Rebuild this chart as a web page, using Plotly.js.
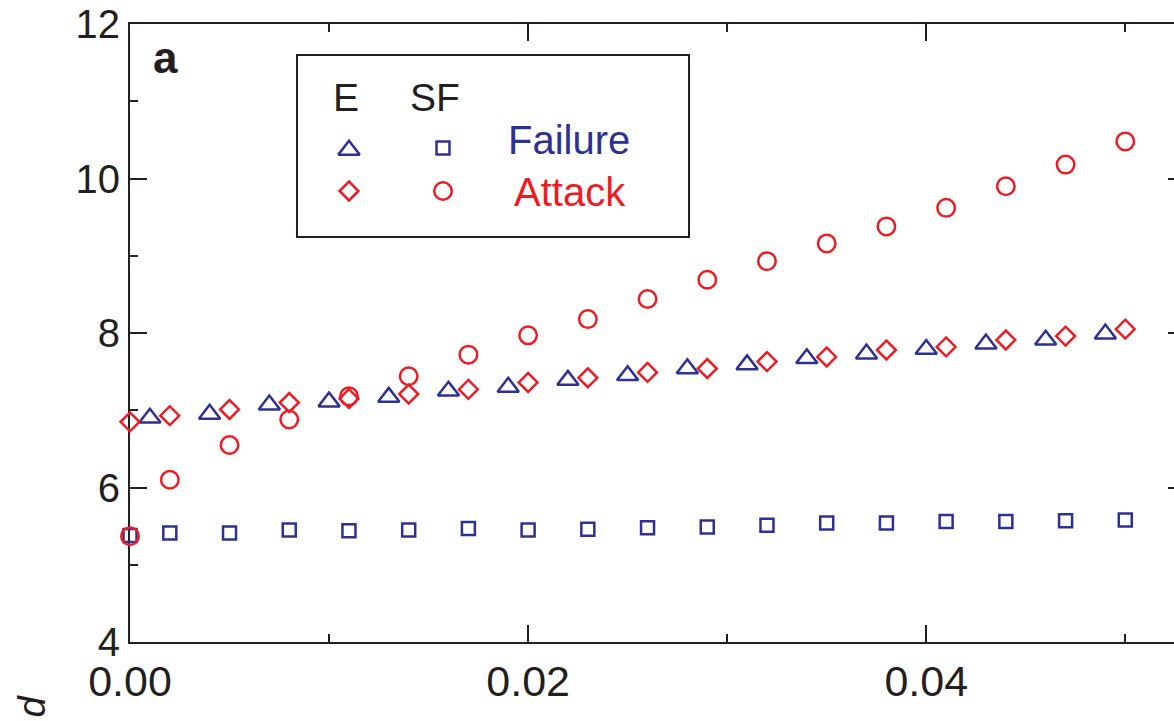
<!DOCTYPE html>
<html><head><meta charset="utf-8">
<script src="https://cdn.plot.ly/plotly-3.0.1.min.js"></script>
<style>html,body{margin:0;padding:0;overflow:hidden;background:#fff;width:1174px;height:721px}#chart{width:1185px;height:721px}</style>
</head><body><div id="chart"></div>
<script>
// Data
const xSF = [0,0.002,0.005,0.008,0.011,0.014,0.017,0.020,0.023,0.026,0.029,0.032,0.035,0.038,0.041,0.044,0.047,0.050];
const ySFFailure = [5.38,5.41,5.41,5.45,5.44,5.45,5.47,5.45,5.46,5.48,5.49,5.51,5.54,5.54,5.56,5.56,5.57,5.58];
const ySFAttack = [5.37,6.10,6.55,6.88,7.18,7.44,7.72,7.97,8.18,8.44,8.69,8.93,9.16,9.38,9.62,9.90,10.18,10.48];
const xEFailure = [0.001,0.004,0.007,0.010,0.013,0.016,0.019,0.022,0.025,0.028,0.031,0.034,0.037,0.040,0.043,0.046,0.049];
const yEFailure = [6.90,6.95,7.07,7.11,7.17,7.25,7.30,7.39,7.45,7.54,7.59,7.67,7.73,7.79,7.86,7.91,7.99];
const xEAttack = [0,0.002,0.005,0.008,0.011,0.014,0.017,0.020,0.023,0.026,0.029,0.032,0.035,0.038,0.041,0.044,0.047,0.050];
const yEAttack = [6.85,6.93,7.01,7.10,7.15,7.21,7.27,7.36,7.42,7.49,7.54,7.63,7.69,7.78,7.82,7.91,7.96,8.05];
const xTickVals = [0,0.02,0.04];
const yTickVals = [4,6,8,10,12];
const legendHeaders = ['E','SF'];
const legendLabels = ['Failure','Attack'];

const BLUE = '#2e3192', RED = '#ed1c24', INK = '#231f20';
const FONT = 'Liberation Sans, Arial, Helvetica, sans-serif';

function mk(x, y, symbol, size, color, xa, ya) {
  return {x: x, y: y, type: 'scatter', mode: 'markers', cliponaxis: false, hoverinfo: 'skip',
    xaxis: xa || 'x', yaxis: ya || 'y',
    marker: {symbol: symbol, size: size, color: color, line: {color: color, width: 2.5}}};
}

// legend key placement (overlay pixel-like axes)
const keyCol = [349, 443];
const keyRow = [148, 191];

const traces = [
  mk(xSF, ySFFailure, 'square-open', 13, BLUE),
  mk(xSF, ySFAttack, 'circle-open', 17.5, RED),
  mk(xEFailure, yEFailure, 'triangle-up-open', 18.5, BLUE),
  mk(xEAttack, yEAttack, 'diamond-open', 14.5, RED),
  mk([keyCol[0]], [keyRow[0] + 2], 'triangle-up-open', 18.5, BLUE, 'x2', 'y2'),
  mk([keyCol[1]], [keyRow[0]], 'square-open', 13, BLUE, 'x2', 'y2'),
  mk([keyCol[0]], [keyRow[1]], 'diamond-open', 14.5, RED, 'x2', 'y2'),
  mk([keyCol[1]], [keyRow[1]], 'circle-open', 17.5, RED, 'x2', 'y2')
];

const axisCommon = {
  showline: true, linecolor: INK, linewidth: 2, mirror: 'ticks',
  ticks: 'inside', ticklen: 17, tickwidth: 2, tickcolor: INK,
  showgrid: false, zeroline: false, layer: 'below traces', fixedrange: true
};

const layout = {
  width: 1185, height: 721,
  margin: {l: 130, r: 0, t: 24, b: 79, pad: 0},
  paper_bgcolor: '#fff', plot_bgcolor: '#fff',
  showlegend: false,
  font: {family: FONT, color: INK},
  xaxis: Object.assign({}, axisCommon, {
    range: [0, 0.053], tickvals: xTickVals, tickformat: '.2f',
    tickfont: {size: 43, family: FONT, color: INK}, ticklabelstandoff: 0,
    minor: {ticks: 'inside', ticklen: 8, tickwidth: 2, tickcolor: INK, dtick: 0.01, showgrid: false}
  }),
  yaxis: Object.assign({}, axisCommon, {
    range: [4, 12], tickvals: yTickVals,
    tickfont: {size: 40, family: FONT, color: INK}, ticklabelstandoff: 0,
    minor: {ticks: 'inside', ticklen: 8, tickwidth: 2, tickcolor: INK, dtick: 1, showgrid: false}
  }),
  xaxis2: {overlaying: 'x', range: [130, 1185], visible: false, fixedrange: true},
  yaxis2: {overlaying: 'y', range: [642, 24], visible: false, fixedrange: true},
  shapes: [
    {type: 'rect', xref: 'x2', yref: 'y2', x0: 297, x1: 689, y0: 55, y1: 237,
     line: {color: INK, width: 2}, fillcolor: 'rgba(0,0,0,0)'}
  ],
  annotations: [
    {xref: 'x2', yref: 'y2', x: 346, y: 97, text: legendHeaders[0], showarrow: false,
     font: {size: 39, family: FONT, color: INK}, xanchor: 'center', yanchor: 'middle'},
    {xref: 'x2', yref: 'y2', x: 408, y: 97, text: legendHeaders[1], showarrow: false,
     font: {size: 39, family: FONT, color: INK}, xanchor: 'left', yanchor: 'middle'},
    {xref: 'x2', yref: 'y2', x: 506, y: 140, text: legendLabels[0], showarrow: false,
     font: {size: 40, family: FONT, color: BLUE}, xanchor: 'left', yanchor: 'middle'},
    {xref: 'x2', yref: 'y2', x: 512, y: 192, text: legendLabels[1], showarrow: false,
     font: {size: 40, family: FONT, color: RED}, xanchor: 'left', yanchor: 'middle'},
    {xref: 'x2', yref: 'y2', x: 165, y: 57, text: '<b>a</b>', showarrow: false,
     font: {size: 44, family: FONT, color: INK}, xanchor: 'center', yanchor: 'middle'},
    {xref: 'paper', yref: 'paper', x: -0.093, y: -0.103, text: '<i>d</i>', showarrow: false, textangle: -90,
     font: {size: 38, family: FONT, color: INK}, xanchor: 'center', yanchor: 'middle'}
  ]
};

Plotly.newPlot('chart', traces, layout, {displayModeBar: false, staticPlot: true});
</script>
</body></html>
